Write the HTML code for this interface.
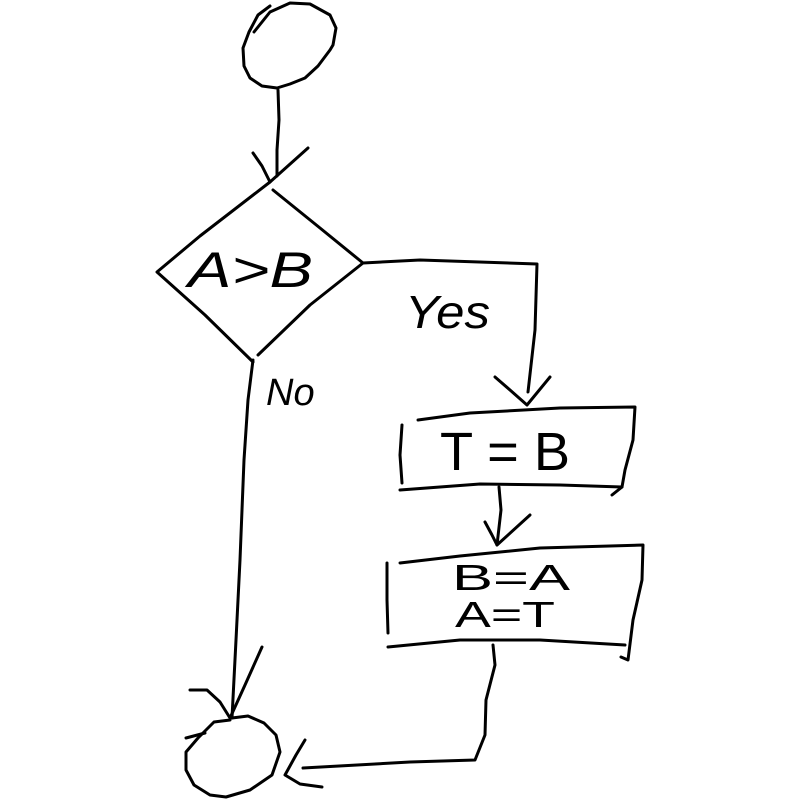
<!DOCTYPE html>
<html><head><style>body{margin:0;background:#fff}svg{display:block}</style></head><body>
<svg width="800" height="800" viewBox="0 0 800 800" xmlns="http://www.w3.org/2000/svg">
<g fill="none" stroke="#000" stroke-width="3" stroke-linecap="round" stroke-linejoin="round">
<path d="M254,32 L270,12 L290,3 L310,4 L330,15 L336,28 L333,45 L330,50 L318,66 L305,78 L290,84 L277,88 L262,86 L250,78 L244,66 L243,48 L249,32 L258,15 L270,6"/>
<path d="M278,90 L279,120 L277,150 L277,176"/>
<path d="M253,153 L262,166 L270,182 L308,148"/>
<path d="M270,182 L200,236 L157,272 L205,315 L253,362"/>
<path d="M273,190 L320,228 L363,263 L310,305 L258,355"/>
<path d="M363,263 L420,260 L537,264 L535,330 L528,392"/>
<path d="M495,377 L510,390 L527,405 L550,377"/>
<path d="M253,360 L248,400 L244,460 L240,560 L236,640 L232,718"/>
<path d="M190,690 L207,690 L220,702 L230,718 L245,685 L262,647"/>
<path d="M230,720 L214,722 L198,738 L186,752 L186,770 L194,785 L210,795 L226,797 L250,790 L272,775 L280,752 L276,735 L264,723 L248,716 L232,718"/>
<path d="M186,738 L205,733"/>
<path d="M418,420 L470,413 L560,408 L635,407 L633,440 L625,470 L622,487 L612,495"/>
<path d="M402,425 L400,455 L402,483"/>
<path d="M400,490 L480,484 L560,485 L622,487"/>
<path d="M499,487 L501,510 L497,545"/>
<path d="M485,522 L492,535 L497,545 L530,515"/>
<path d="M400,563 L460,556 L540,548 L643,545 L642,580 L633,620 L628,660 L621,657"/>
<path d="M387,563 L387,600 L388,633"/>
<path d="M388,647 L460,640 L540,640 L625,645"/>
<path d="M493,645 L495,665 L486,700 L485,735 L475,760 L410,762 L303,768"/>
<path d="M305,740 L296,755 L285,775 L300,784 L322,787"/>
</g>
<g font-family="Liberation Sans, sans-serif" fill="#000">
<text x="188" y="287" font-size="50" font-style="italic" textLength="125" lengthAdjust="spacingAndGlyphs">A&gt;B</text>
<text x="405" y="328" font-size="46" font-style="italic" textLength="85" lengthAdjust="spacingAndGlyphs">Yes</text>
<text x="266" y="405" font-size="38" font-style="italic">No</text>
<text x="440" y="470" font-size="54" textLength="130" lengthAdjust="spacingAndGlyphs">T = B</text>
<text x="452" y="590" font-size="36" textLength="118" lengthAdjust="spacingAndGlyphs">B=A</text>
<text x="455" y="627" font-size="36" textLength="100" lengthAdjust="spacingAndGlyphs">A=T</text>
</g>
</svg>
</body></html>
